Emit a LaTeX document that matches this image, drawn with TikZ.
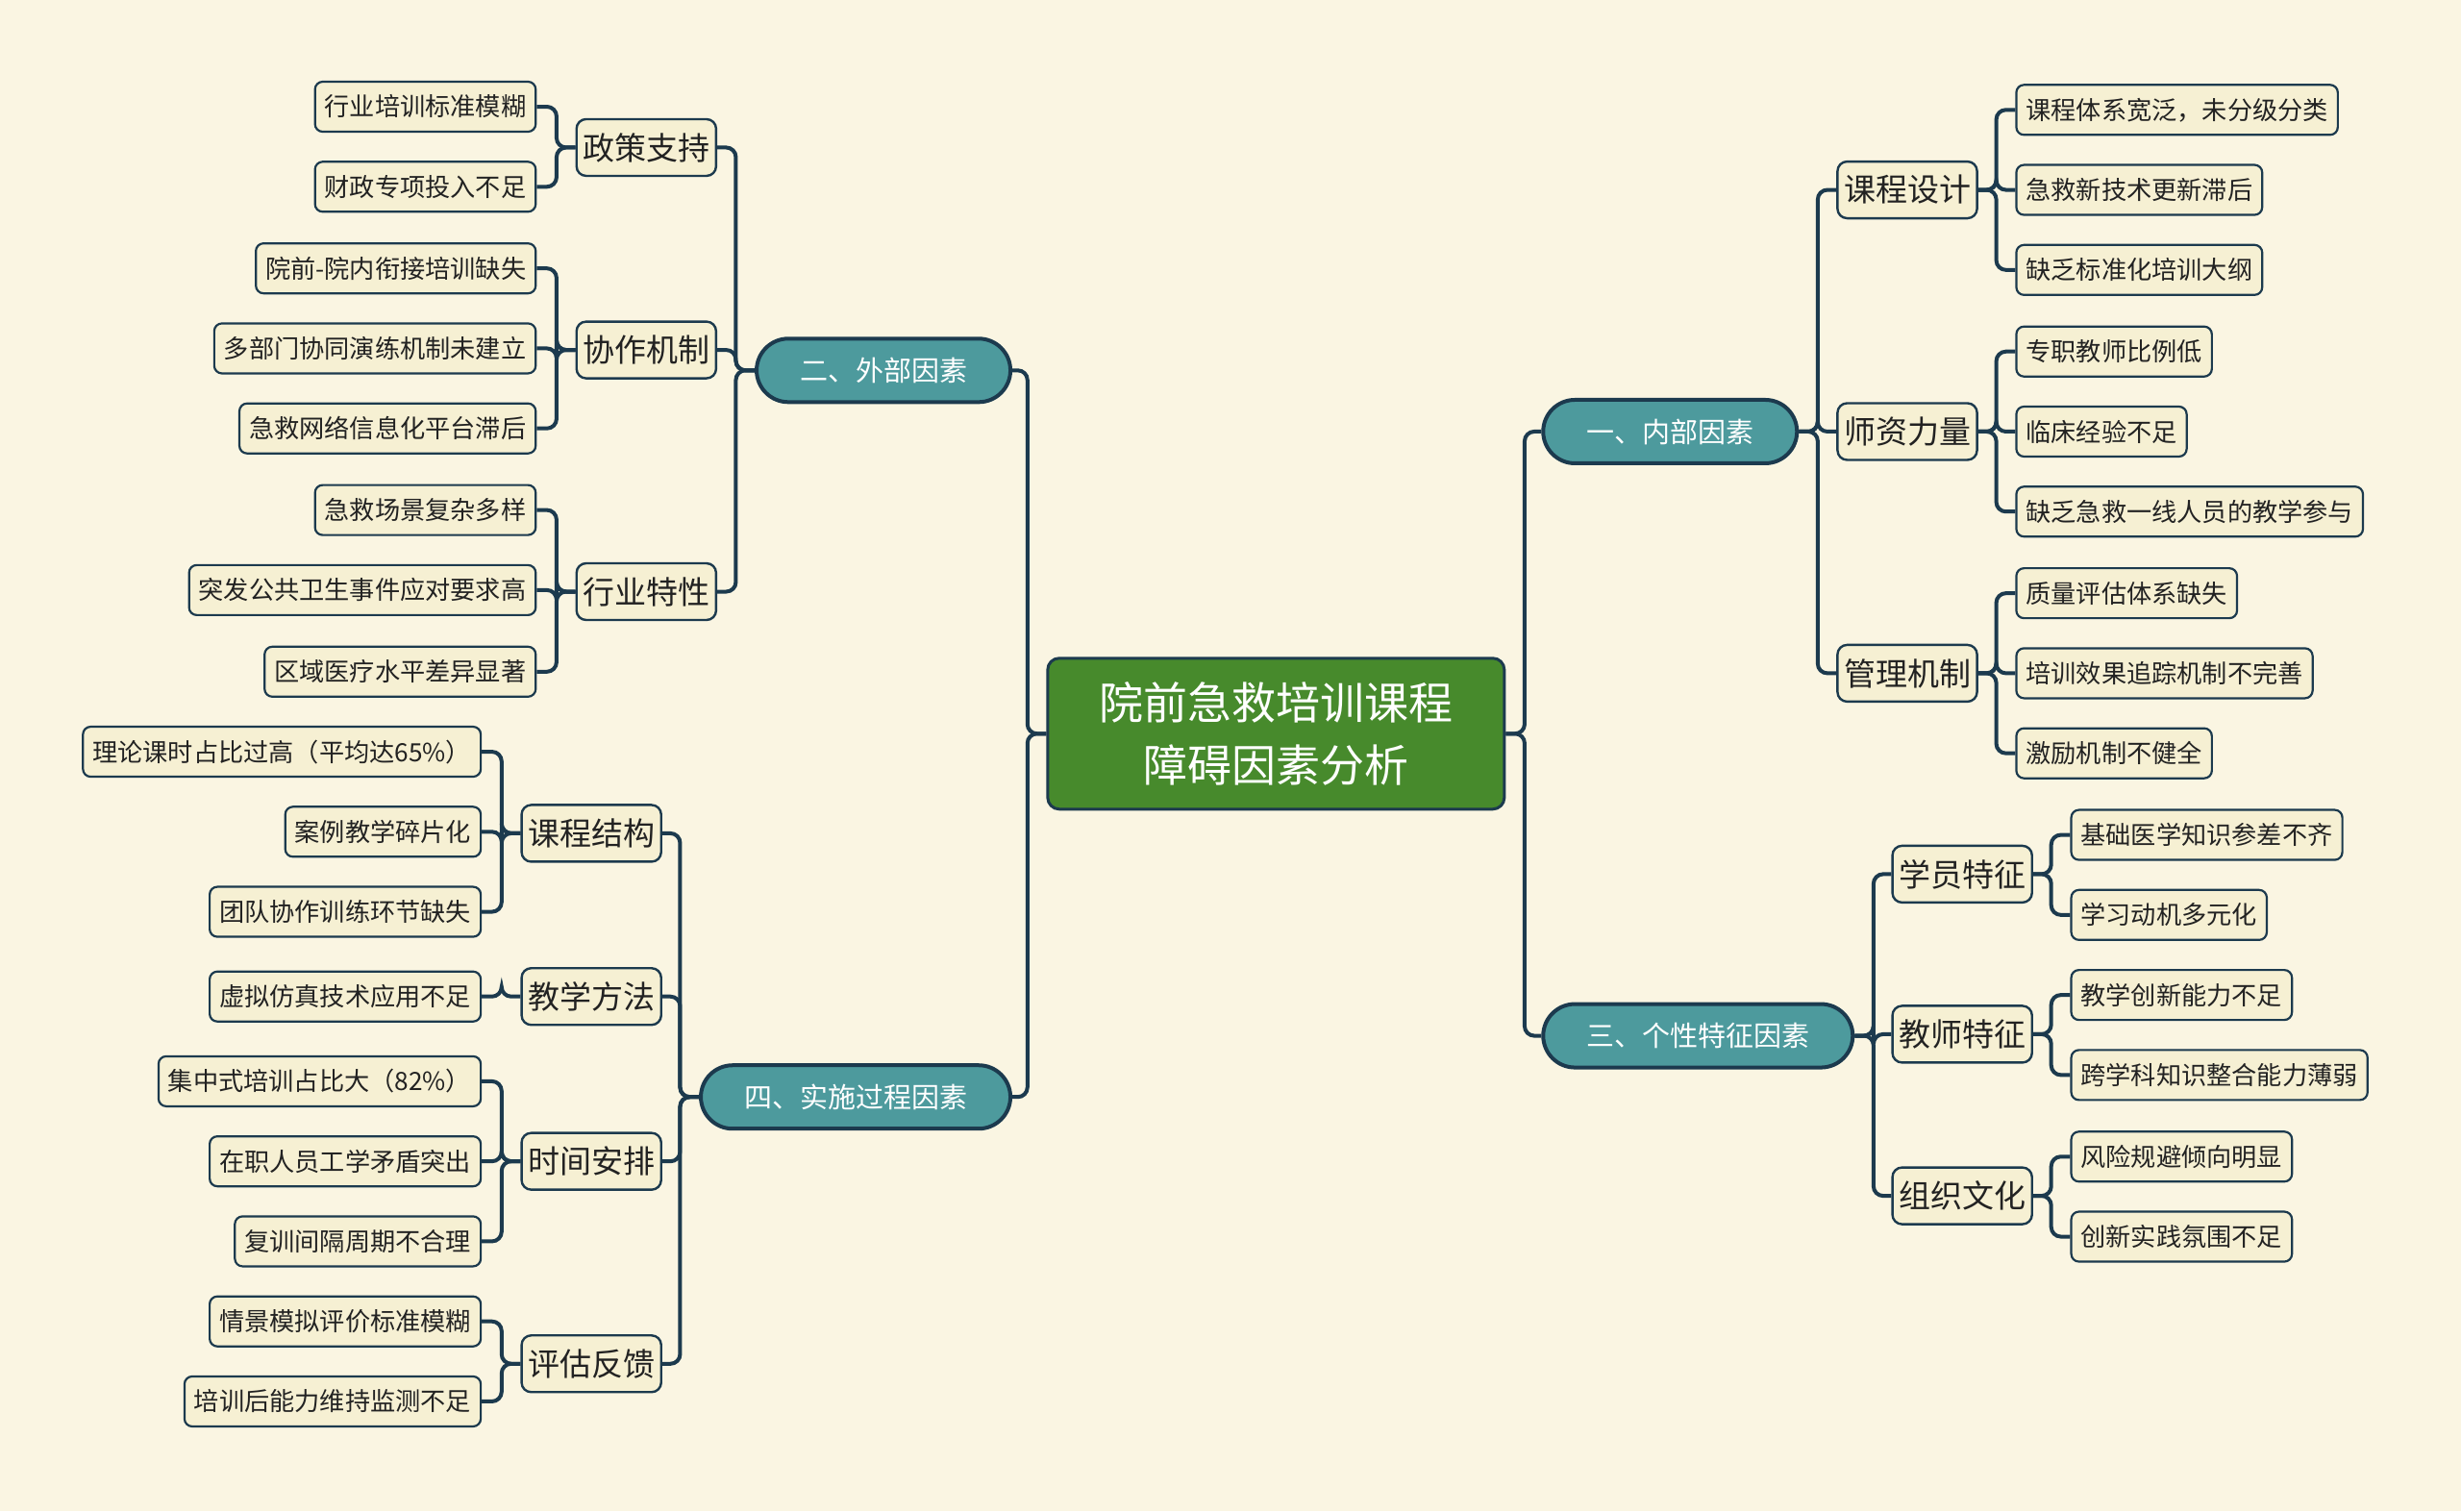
\documentclass[tikz,border=0pt]{standalone}
\usepackage{fontspec}
\setmainfont{Noto Sans CJK SC}
\definecolor{bgC}{HTML}{FAF5E2}
\definecolor{leafF}{HTML}{F6F0D3}
\definecolor{lineC}{HTML}{1C3A4E}
\definecolor{pillF}{HTML}{4D9A9D}
\definecolor{rootF}{HTML}{478A2C}
\definecolor{txtC}{HTML}{222222}
\begin{document}
\begin{tikzpicture}[x=0.8163pt,y=-0.8163pt,
  conn/.style={draw=lineC, line width=2pt, rounded corners=5pt},
  leafbox/.style={draw=lineC, line width=1.1pt, fill=leafF, rounded corners=4pt,
    font=\fontsize{13.1pt}{16pt}\selectfont, text=txtC, inner xsep=5pt, inner ysep=0pt, minimum height=26pt},
  midbox/.style={draw=lineC, line width=1.2pt, fill=leafF, rounded corners=5pt,
    font=\fontsize{16.5pt}{20pt}\selectfont, text=txtC, inner xsep=3.3pt, inner ysep=0pt, minimum height=29.5pt},
  pill/.style={draw=lineC, line width=2pt, fill=pillF, rounded corners=16.5pt,
    font=\fontsize{14.5pt}{18pt}\selectfont, text=white, inner xsep=22.5pt, inner ysep=0pt, minimum height=33pt},
  rootbox/.style={draw=lineC, line width=1.5pt, fill=rootF, rounded corners=6pt,
    font=\fontsize{23pt}{32.5pt}\selectfont, text=white, align=center, minimum width=237.5pt, minimum height=78.5pt}
]
\fill[bgC] (0,0) rectangle (1568,963);
\useasboundingbox (0,0) rectangle (1568,963);

% root
\node[rootbox] (c) at (813,467.5) {院前急救培训课程\\障碍因素分析};

% level 1
\node[pill, anchor=west] (n1) at (982,275) {一、内部因素};
\node[pill, anchor=east] (n2) at (645,236) {二、外部因素};
\node[pill, anchor=west] (n3) at (982,660) {三、个性特征因素};
\node[pill, anchor=east] (n4) at (645,699) {四、实施过程因素};

\foreach \n in {n1,n3} \draw[conn] (c.east) -- ++(12,0) |- (\n.west);
\foreach \n in {n2,n4} \draw[conn] (c.west) -- ++(-12,0) |- (\n.east);

% level 2 right
\node[midbox, anchor=west] (a1) at (1170,121) {课程设计};
\node[midbox, anchor=west] (a2) at (1170,275) {师资力量};
\node[midbox, anchor=west] (a3) at (1170,429) {管理机制};
\node[midbox, anchor=west] (c1) at (1205,557) {学员特征};
\node[midbox, anchor=west] (c2) at (1205,659) {教师特征};
\node[midbox, anchor=west] (c3) at (1205,762) {组织文化};
\foreach \n in {a1,a2,a3} \draw[conn] (n1.east) -- ++(12,0) |- (\n.west);
\foreach \n in {c1,c2,c3} \draw[conn] (n3.east) -- ++(12,0) |- (\n.west);

% level 2 left
\node[midbox, anchor=east] (b1) at (457,94) {政策支持};
\node[midbox, anchor=east] (b2) at (457,223) {协作机制};
\node[midbox, anchor=east] (b3) at (457,377) {行业特性};
\node[midbox, anchor=east] (d1) at (422,531) {课程结构};
\node[midbox, anchor=east] (d2) at (422,635) {教学方法};
\node[midbox, anchor=east] (d3) at (422,740) {时间安排};
\node[midbox, anchor=east] (d4) at (422,869) {评估反馈};
\foreach \n in {b1,b2,b3} \draw[conn] (n2.west) -- ++(-12,0) |- (\n.east);
\foreach \n in {d1,d2,d3,d4} \draw[conn] (n4.west) -- ++(-12,0) |- (\n.east);

% leaves right
\node[leafbox, anchor=west] (a11) at (1284,70) {课程体系宽泛，未分级分类};
\node[leafbox, anchor=west] (a12) at (1284,121) {急救新技术更新滞后};
\node[leafbox, anchor=west] (a13) at (1284,172) {缺乏标准化培训大纲};
\node[leafbox, anchor=west] (a21) at (1284,224) {专职教师比例低};
\node[leafbox, anchor=west] (a22) at (1284,275) {临床经验不足};
\node[leafbox, anchor=west] (a23) at (1284,326) {缺乏急救一线人员的教学参与};
\node[leafbox, anchor=west] (a31) at (1284,378) {质量评估体系缺失};
\node[leafbox, anchor=west] (a32) at (1284,429) {培训效果追踪机制不完善};
\node[leafbox, anchor=west] (a33) at (1284,480) {激励机制不健全};
\foreach \p/\l in {a1/a11,a1/a12,a1/a13,a2/a21,a2/a22,a2/a23,a3/a31,a3/a32,a3/a33}
  \draw[conn] (\p.east) -- ++(11.5,0) |- (\l.west);

\node[leafbox, anchor=west] (c11) at (1319,532) {基础医学知识参差不齐};
\node[leafbox, anchor=west] (c12) at (1319,583) {学习动机多元化};
\node[leafbox, anchor=west] (c21) at (1319,634) {教学创新能力不足};
\node[leafbox, anchor=west] (c22) at (1319,685) {跨学科知识整合能力薄弱};
\node[leafbox, anchor=west] (c31) at (1319,737) {风险规避倾向明显};
\node[leafbox, anchor=west] (c32) at (1319,788) {创新实践氛围不足};
\foreach \p/\l in {c1/c11,c1/c12,c2/c21,c2/c22,c3/c31,c3/c32}
  \draw[conn] (\p.east) -- ++(11.5,0) |- (\l.west);

% leaves left
\node[leafbox, anchor=east] (b11) at (342,68) {行业培训标准模糊};
\node[leafbox, anchor=east] (b12) at (342,119) {财政专项投入不足};
\node[leafbox, anchor=east] (b21) at (342,171) {院前-院内衔接培训缺失};
\node[leafbox, anchor=east] (b22) at (342,222) {多部门协同演练机制未建立};
\node[leafbox, anchor=east] (b23) at (342,273) {急救网络信息化平台滞后};
\node[leafbox, anchor=east] (b31) at (342,325) {急救场景复杂多样};
\node[leafbox, anchor=east] (b32) at (342,376) {突发公共卫生事件应对要求高};
\node[leafbox, anchor=east] (b33) at (342,428) {区域医疗水平差异显著};
\foreach \p/\l in {b1/b11,b1/b12,b2/b21,b2/b22,b2/b23,b3/b31,b3/b32,b3/b33}
  \draw[conn] (\p.west) -- ++(-12,0) |- (\l.east);

\node[leafbox, anchor=east] (d11) at (307,479) {理论课时占比过高（平均达65\%）};
\node[leafbox, anchor=east] (d12) at (307,530) {案例教学碎片化};
\node[leafbox, anchor=east] (d13) at (307,581) {团队协作训练环节缺失};
\node[leafbox, anchor=east] (d21) at (307,635) {虚拟仿真技术应用不足};
\node[leafbox, anchor=east] (d31) at (307,689) {集中式培训占比大（82\%）};
\node[leafbox, anchor=east] (d32) at (307,740) {在职人员工学矛盾突出};
\node[leafbox, anchor=east] (d33) at (307,791) {复训间隔周期不合理};
\node[leafbox, anchor=east] (d41) at (307,842) {情景模拟评价标准模糊};
\node[leafbox, anchor=east] (d42) at (307,893) {培训后能力维持监测不足};
\foreach \p/\l in {d1/d11,d1/d12,d1/d13,d2/d21,d3/d31,d3/d32,d3/d33,d4/d41,d4/d42}
  \draw[conn] (\p.west) -- ++(-12,0) |- (\l.east);
\end{tikzpicture}
\end{document}
